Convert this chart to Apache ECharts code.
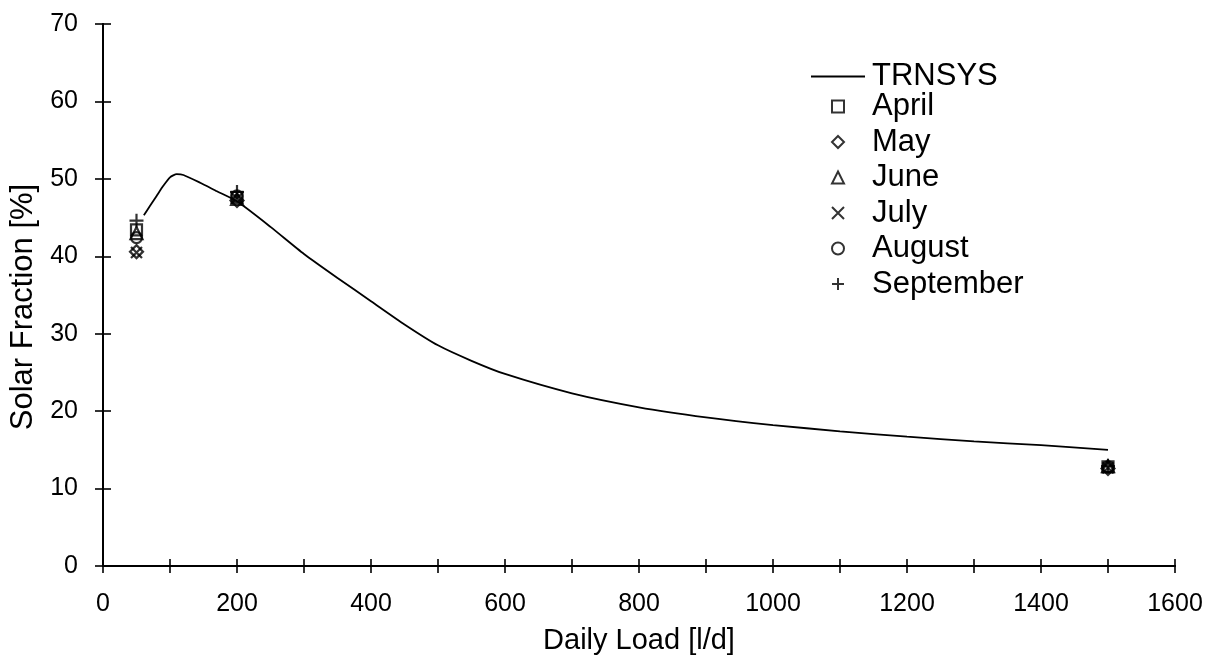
<!DOCTYPE html>
<html>
<head>
<meta charset="utf-8">
<script src="https://cdn.jsdelivr.net/npm/echarts@6/dist/echarts.min.js"></script>
<style>
  html, body { margin: 0; padding: 0; background: #fff; }
  #chart { width: 1217px; height: 655px; }
</style>
</head>
<body>
<div id="chart"></div>
<script>
// Simulated TRNSYS solar fraction curve: [daily load l/d, solar fraction %]
const trnsys = [
  [61, 45.3], [70, 46.5], [80, 47.8], [90, 49.1], [100, 50.2], [110, 50.6],
  [120, 50.5], [145, 49.5], [170, 48.4], [200, 47.1], [250, 43.8], [300, 40.3],
  [350, 37.2], [400, 34.2], [450, 31.2], [500, 28.5], [550, 26.5], [600, 24.8],
  [700, 22.3], [800, 20.5], [900, 19.2], [1000, 18.2], [1100, 17.4], [1200, 16.7],
  [1300, 16.1], [1400, 15.6], [1500, 15.0]
];

// Measured monthly solar fractions: [daily load l/d, solar fraction %]
const april     = [[50, 43.4], [200, 47.6], [1500, 12.8]];
const may       = [[50, 40.6], [200, 47.2], [1500, 12.6]];
const june      = [[50, 43.0], [200, 47.4], [1500, 12.9]];
const july      = [[50, 40.5], [200, 47.5], [1500, 12.7]];
const august    = [[50, 42.4], [200, 47.8], [1500, 12.8]];
const september = [[50, 44.6], [200, 48.3], [1500, 12.9]];

const monthNames = ['April', 'May', 'June', 'July', 'August', 'September'];
const monthData = [april, may, june, july, august, september];
const monthSymbols = [
  'rect',
  'diamond',
  'triangle',
  'path://M0,0L10,10M10,0L0,10',
  'circle',
  'path://M5,0L5,10M0,5L10,5'
];
const monthSizes = [11, 13, 12, 11, 11, 14];

const FONT = 'Liberation Sans, Arial, sans-serif';
const black = '#000';

const chart = echarts.init(document.getElementById('chart'), null, { renderer: 'canvas' });

const axisCommon = {
  type: 'value',
  axisLine: { show: true, onZero: false, lineStyle: { color: black, width: 2 } },
  splitLine: { show: false }
};

const tickStyle = { color: black, width: 1.6 };

const option = {
  backgroundColor: '#fff',
  animation: false,
  textStyle: { fontFamily: FONT, color: black },
  grid: {
    left: 103, right: 42, top: 24, bottom: 89,
    containLabel: false,
    outerBoundsMode: 'none'
  },
  xAxis: [
    Object.assign({}, axisCommon, {
      min: 0, max: 1600, interval: 100,
      position: 'bottom',
      name: 'Daily Load [l/d]',
      nameLocation: 'middle',
      nameGap: 60,
      nameTextStyle: { fontSize: 29, color: black, fontFamily: FONT },
      axisTick: { show: true, length: 7, lineStyle: tickStyle },
      axisLabel: {
        margin: 26, fontSize: 25, color: black, fontFamily: FONT,
        formatter: v => (v % 200 === 0 ? String(v) : '')
      }
    }),
    Object.assign({}, axisCommon, {
      min: 0, max: 1600, interval: 100,
      position: 'bottom',
      axisTick: { show: true, inside: true, length: 7, lineStyle: tickStyle },
      axisLabel: { show: false }
    })
  ],
  yAxis: [
    Object.assign({}, axisCommon, {
      min: 0, max: 70, interval: 10,
      position: 'left',
      name: 'Solar Fraction [%]',
      nameLocation: 'middle',
      nameGap: 54,
      nameTextStyle: { fontSize: 31, color: black, fontFamily: FONT, padding: [0, 24, 0, 0] },
      axisTick: { show: true, length: 8, lineStyle: tickStyle },
      axisLabel: { margin: 25, fontSize: 25, color: black, fontFamily: FONT }
    }),
    Object.assign({}, axisCommon, {
      min: 0, max: 70, interval: 10,
      position: 'left',
      axisTick: { show: true, inside: true, length: 8, lineStyle: tickStyle },
      axisLabel: { show: false }
    })
  ],
  legend: [
    {
      data: [{ name: 'TRNSYS', icon: 'rect' }],
      orient: 'vertical',
      left: 806, top: 56,
      itemWidth: 54, itemHeight: 2,
      textStyle: { fontSize: 31, color: black, fontFamily: FONT, padding: [0, 0, 0, 2] },
      selectedMode: false
    },
    {
      data: monthNames,
      orient: 'vertical',
      left: 826, top: 86,
      itemWidth: 12, itemHeight: 12,
      itemGap: 4.5,
      textStyle: { fontSize: 31, color: black, fontFamily: FONT, padding: [0, 0, 0, 23] },
      selectedMode: false
    }
  ],
  series: [
    {
      name: 'TRNSYS',
      type: 'line',
      data: trnsys,
      smooth: 0.2,
      symbol: 'none',
      lineStyle: { color: black, width: 1.8 },
      itemStyle: { color: black },
      z: 2
    },
    {
      // keeps the inner tick axes bound to the grid
      name: 'axisBinding',
      type: 'line',
      xAxisIndex: 1,
      yAxisIndex: 1,
      data: [],
      silent: true
    }
  ].concat(monthNames.map((name, i) => ({
    name: name,
    type: 'scatter',
    data: monthData[i],
    symbol: monthSymbols[i],
    symbolSize: monthSizes[i],
    itemStyle: { color: 'rgba(255,255,255,0)', borderColor: black, borderWidth: 2.2 },
    z: 3
  })))
};

chart.setOption(option);
</script>
</body>
</html>
